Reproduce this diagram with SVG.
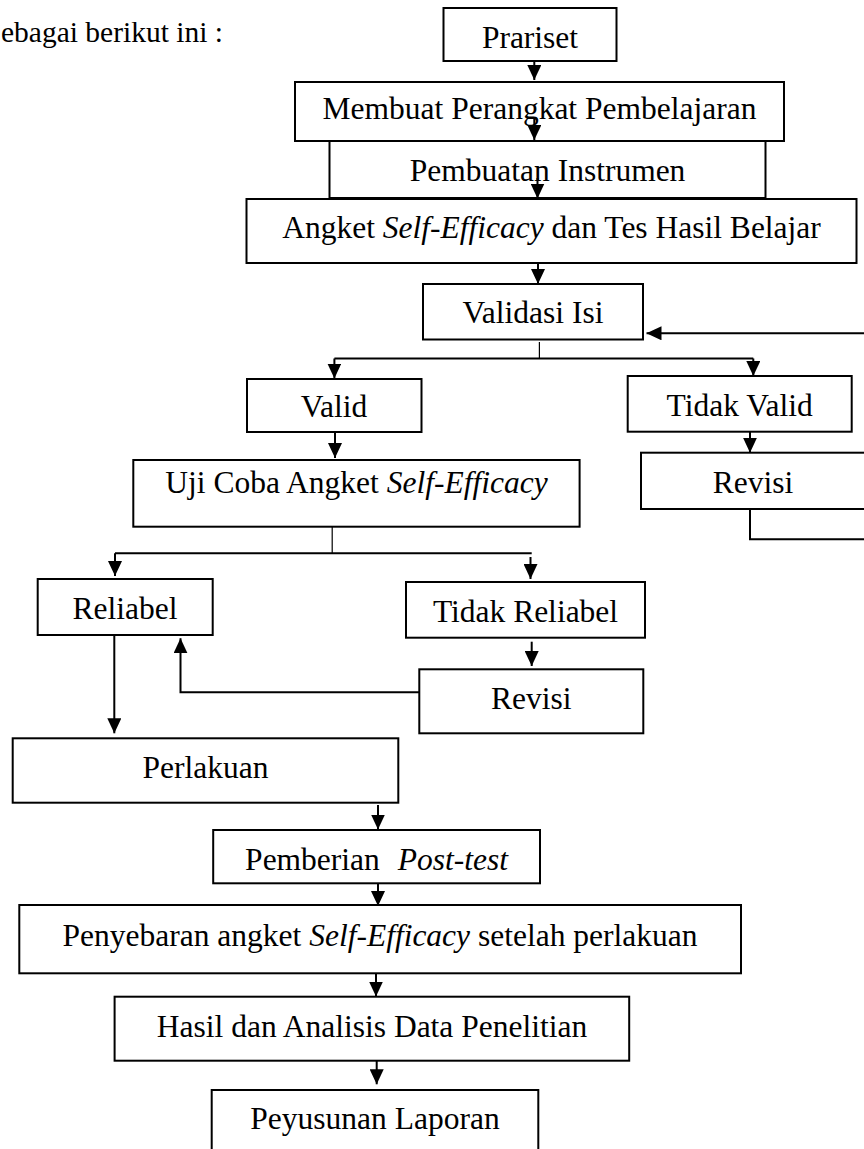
<svg xmlns="http://www.w3.org/2000/svg" width="864" height="1149" viewBox="0 0 864 1149">
<style>
.box{fill:#fff;stroke:#000;stroke-width:2}
.t{font-family:"Liberation Serif","Times New Roman",serif;font-size:31.5px;text-anchor:middle;fill:#000}
.i{font-style:italic}
.c{fill:none;stroke:#000;stroke-width:2}
.thin{fill:none;stroke:#000;stroke-width:1.2}
</style>
<defs>
<marker id="ah" markerUnits="userSpaceOnUse" markerWidth="15" markerHeight="14" refX="15" refY="7" orient="auto">
<path d="M0,0 L15,7 L0,14 z" fill="#000"/>
</marker>
</defs>
<g id="intro"><text class="t" x="1" y="41.7" style="text-anchor:start;font-size:29.5px">ebagai berikut ini :</text></g>
<g id="n-prariset"><rect class="box" x="443.5" y="8" width="173" height="53"/><text class="t" x="530" y="47.7">Prariset</text></g>
<g id="n-membuat"><rect class="box" x="295" y="82" width="489" height="59"/><text class="t" x="539.5" y="118.5">Membuat Perangkat Pembelajaran</text></g>
<g id="n-pembuatan"><rect class="box" x="329.5" y="141" width="436" height="57"/><text class="t" x="547.6" y="181">Pembuatan Instrumen</text></g>
<g id="n-angket"><rect class="box" x="246.5" y="199" width="610" height="64"/><text class="t" x="551.5" y="238">Angket <tspan class="i">Self-Efficacy</tspan> dan Tes Hasil Belajar</text></g>
<g id="n-validasi"><rect class="box" x="423" y="284" width="220" height="55.5"/><text class="t" x="533" y="323">Validasi Isi</text></g>
<g id="n-valid"><rect class="box" x="247" y="379" width="174.5" height="53"/><text class="t" x="334" y="417">Valid</text></g>
<g id="n-tidakvalid"><rect class="box" x="627.7" y="376" width="224" height="55.7"/><text class="t" x="739.7" y="416">Tidak Valid</text></g>
<g id="n-revisi1"><rect class="box" x="641" y="452.7" width="226" height="56.3"/><text class="t" x="753" y="492.7">Revisi</text></g>
<g id="n-uji"><rect class="box" x="133.3" y="460" width="446.3" height="66.7"/><text class="t" x="356.5" y="493">Uji Coba Angket <tspan class="i">Self-Efficacy</tspan></text></g>
<g id="n-reliabel"><rect class="box" x="37.7" y="579" width="175" height="56"/><text class="t" x="125" y="619">Reliabel</text></g>
<g id="n-tidakreliabel"><rect class="box" x="406" y="582" width="239" height="55.7"/><text class="t" x="525.5" y="621.7">Tidak Reliabel</text></g>
<g id="n-revisi2"><rect class="box" x="419.3" y="669.3" width="224" height="64"/><text class="t" x="531.3" y="709">Revisi</text></g>
<g id="n-perlakuan"><rect class="box" x="12.7" y="738.3" width="385.6" height="64.4"/><text class="t" x="205.5" y="778.3">Perlakuan</text></g>
<g id="n-posttest"><rect class="box" x="213.2" y="830" width="326.8" height="53.3"/><text class="t" x="376.6" y="870">Pemberian<tspan class="i" dx="18">Post-test</tspan></text></g>
<g id="n-penyebaran"><rect class="box" x="19.3" y="905" width="721.7" height="68.3"/><text class="t" x="380" y="945.5">Penyebaran angket <tspan class="i">Self-Efficacy</tspan> setelah perlakuan</text></g>
<g id="n-hasil"><rect class="box" x="114.6" y="996.7" width="514.6" height="64"/><text class="t" x="372" y="1036.7">Hasil dan Analisis Data Penelitian</text></g>
<g id="n-peyusunan"><rect class="box" x="211.7" y="1090" width="326.6" height="80"/><text class="t" x="375" y="1129.3">Peyusunan Laporan</text></g>
<g id="connectors">
<line class="c" x1="534.3" y1="61" x2="534.3" y2="80" marker-end="url(#ah)"/>
<line class="c" x1="534.3" y1="119" x2="534.3" y2="140" marker-end="url(#ah)"/>
<line class="c" x1="537.5" y1="178" x2="537.5" y2="198.5" marker-end="url(#ah)"/>
<line class="c" x1="538" y1="263" x2="538" y2="284" marker-end="url(#ah)"/>
<line class="thin" x1="539.4" y1="342" x2="539.4" y2="358.5"/>
<line class="c" x1="334.4" y1="358.5" x2="753.3" y2="358.5"/>
<line class="c" x1="334.4" y1="358.5" x2="334.4" y2="378.5" marker-end="url(#ah)"/>
<line class="c" x1="753.3" y1="358.5" x2="753.3" y2="376" marker-end="url(#ah)"/>
<line class="c" x1="335" y1="432" x2="335" y2="458" marker-end="url(#ah)"/>
<line class="c" x1="750" y1="432" x2="750" y2="452.7" marker-end="url(#ah)"/>
<path class="c" d="M750,509 V539.3 H872 V333.3 H646.5" marker-end="url(#ah)"/>
<line class="thin" x1="332.2" y1="527" x2="332.2" y2="553.3"/>
<line class="c" x1="115" y1="553.3" x2="531.7" y2="553.3"/>
<line class="c" x1="115" y1="553.3" x2="115" y2="576" marker-end="url(#ah)"/>
<line class="c" x1="530.5" y1="557" x2="530.5" y2="579" marker-end="url(#ah)"/>
<line class="c" x1="531.7" y1="641.7" x2="531.7" y2="666" marker-end="url(#ah)"/>
<path class="c" d="M419.3,692.3 H180.5 V638.3" marker-end="url(#ah)"/>
<line class="c" x1="114.3" y1="635" x2="114.3" y2="733.3" marker-end="url(#ah)"/>
<line class="c" x1="378" y1="805" x2="378" y2="829.5" marker-end="url(#ah)"/>
<line class="c" x1="378" y1="883.3" x2="378" y2="906" marker-end="url(#ah)"/>
<line class="c" x1="376" y1="973.3" x2="376" y2="996.5" marker-end="url(#ah)"/>
<line class="c" x1="376.7" y1="1060.7" x2="376.7" y2="1084.3" marker-end="url(#ah)"/>
</g>
</svg>
